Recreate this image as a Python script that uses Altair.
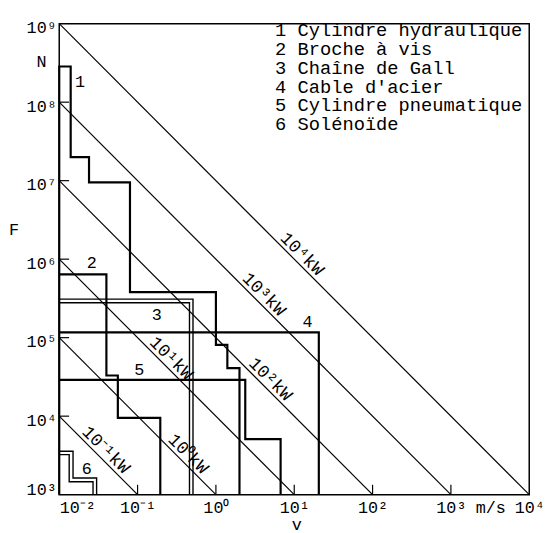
import altair as alt
import pandas as pd

# ---------------- data ----------------
x_ticks = [0.01, 0.1, 1, 10, 100, 1000, 10000]
x_tick_labels = ["10⁻²", "10⁻¹", "10⁰", "10¹", "10²", "10³", "10⁴"]
y_ticks = [1e3, 1e4, 1e5, 1e6, 1e7, 1e8, 1e9]
y_tick_labels = ["10³", "10⁴", "10⁵", "10⁶", "10⁷", "10⁸", "10⁹"]
inner_x_ticks = [0.1, 1, 10, 100, 1000]
inner_y_ticks = [1e4, 1e5, 1e6, 1e7, 1e8]

# constant power lines (W): from v=0.01 to F=1e3
power_W = [1e2, 1e3, 1e4, 1e5, 1e6, 1e7]
power_labels = ["10⁻¹kW", "10⁰kW", "10¹kW", "10²kW", "10³kW", "10⁴kW"]
power_v_start = [0.01, 0.01, 0.01, 0.01, 0.01, 0.01]
power_F_start = [1e4, 1e5, 1e6, 1e7, 1e8, 1e9]
power_v_end = [0.1, 1, 10, 100, 1000, 10000]
power_F_end = [1e3, 1e3, 1e3, 1e3, 1e3, 1e3]
power_label_v = [0.0326, 0.366, 0.222, 4.1, 3.4, 10.4]

# step curves (v in m/s, F in N)
c1_v = [0.01, 0.01, 0.014, 0.014, 0.024, 0.024, 0.08, 0.08, 1.0, 1.0, 1.4, 1.4, 2.0, 2.0]
c1_F = [1e3, 2.85e8, 2.85e8, 2.0e7, 2.0e7, 9.5e6, 9.5e6, 3.8e5, 3.8e5, 8.1e4, 8.1e4, 4.1e4, 4.1e4, 1e3]
c2_v = [0.01, 0.04, 0.04, 0.056, 0.056, 0.195, 0.195]
c2_F = [6.4e5, 6.4e5, 3.3e4, 3.3e4, 9.5e3, 9.5e3, 1e3]
c3o_v = [0.01, 0.51, 0.51]
c3o_F = [3.1e5, 3.1e5, 1e3]
c3i_v = [0.01, 0.46, 0.46]
c3i_F = [2.78e5, 2.78e5, 1e3]
c4_v = [0.01, 20.6, 20.6]
c4_F = [1.17e5, 1.17e5, 1e3]
c5_v = [0.01, 2.37, 2.37, 6.7, 6.7]
c5_F = [2.9e4, 2.9e4, 5.1e3, 5.1e3, 1e3]
c6o_v = [0.01, 0.015, 0.015, 0.030, 0.030]
c6o_F = [3.57e3, 3.57e3, 1.63e3, 1.63e3, 1e3]
c6i_v = [0.01, 0.0134, 0.0134, 0.027, 0.027]
c6i_F = [3.24e3, 3.24e3, 1.46e3, 1.46e3, 1e3]

curve_nums = ["1", "2", "3", "4", "5", "6"]
curve_num_v = [0.0184, 0.026, 0.176, 14.8, 0.105, 0.0225]
curve_num_F = [1.8e8, 8.9e5, 1.92e5, 1.57e5, 3.9e4, 2.1e3]

legend_lines = ["1 Cylindre hydraulique", "2 Broche à vis", "3 Chaîne de Gall",
                "4 Cable d'acier", "5 Cylindre pneumatique", "6 Solénoïde"]

# ---------------- build tables ----------------
def path_df(groups):
    rows = []
    for name, vs, fs in groups:
        for i, (v, f) in enumerate(zip(vs, fs)):
            rows.append({"curve": name, "idx": i, "v": v, "F": f})
    return pd.DataFrame(rows)

thick_df = path_df([("1", c1_v, c1_F), ("2", c2_v, c2_F), ("4", c4_v, c4_F), ("5", c5_v, c5_F)])
thin_df = path_df([("3o", c3o_v, c3o_F), ("3i", c3i_v, c3i_F), ("6o", c6o_v, c6o_F), ("6i", c6i_v, c6i_F)])
power_df = path_df([(power_labels[i], [power_v_start[i], power_v_end[i]],
                     [power_F_start[i], power_F_end[i]]) for i in range(len(power_W))])
plabel_df = pd.DataFrame({"label": power_labels, "v": power_label_v,
                          "F": [p / v for p, v in zip(power_W, power_label_v)]})
num_df = pd.DataFrame({"t": curve_nums, "v": curve_num_v, "F": curve_num_F})
xt_df = pd.DataFrame({"v": inner_x_ticks})
yt_df = pd.DataFrame({"F": inner_y_ticks})
one = pd.DataFrame({"a": [0]})

FONT = "Liberation Mono"

def label_expr(vals, labs):
    parts = [f"datum.value == {v} ? '{l}'" for v, l in zip(vals, labs)]
    return " : ".join(parts) + " : ''"

X = alt.X("v:Q", scale=alt.Scale(type="log", domain=[0.01, 10000]),
          axis=alt.Axis(values=x_ticks, labelExpr=label_expr(x_ticks, x_tick_labels),
                        title=None, grid=False, ticks=False, domain=False,
                        labelFont=FONT, labelFontSize=17, labelColor="black",
                        labelPadding=5, labelOverlap=False, labelFlush=False,
                        labelAlign={"condition": {"test": "datum.value == 0.01", "value": "left"},
                                    "value": "center"}))
Y = alt.Y("F:Q", scale=alt.Scale(type="log", domain=[1000, 1e9]),
          axis=alt.Axis(values=y_ticks, labelExpr=label_expr(y_ticks, y_tick_labels),
                        title=None, grid=False, ticks=False, domain=False,
                        labelFont=FONT, labelFontSize=17, labelColor="black",
                        labelPadding=3, labelOverlap=False, labelFlush=False,
                        labelOffset=4,
                        labelBaseline={"condition": {"test": "datum.value == 1000", "value": "bottom"},
                                       "value": "middle"}))

power = alt.Chart(power_df).mark_line(color="black", strokeWidth=1.2).encode(
    x=X, y=Y, detail="curve:N", order="idx:Q")
thick = alt.Chart(thick_df).mark_line(color="black", strokeWidth=2.2).encode(
    x=X, y=Y, detail="curve:N", order="idx:Q")
thin = alt.Chart(thin_df).mark_line(color="black", strokeWidth=1.4).encode(
    x=X, y=Y, detail="curve:N", order="idx:Q")
plabels = alt.Chart(plabel_df).mark_text(font=FONT, fontSize=18, angle=45, align="center",
                                         baseline="middle", dy=-9, color="black").encode(
    x=X, y=Y, text="label:N")
nums = alt.Chart(num_df).mark_text(font=FONT, fontSize=17, color="black").encode(
    x=X, y=Y, text="t:N")
xt = alt.Chart(xt_df).mark_rule(color="black", strokeWidth=1.2).encode(
    x=X, y=alt.value(478), y2=alt.value(468))
yt = alt.Chart(yt_df).mark_rule(color="black", strokeWidth=1.2).encode(
    y=Y, x=alt.value(0), x2=alt.value(10))

legend_layers = []
for i, line in enumerate(legend_lines):
    legend_layers.append(
        alt.Chart(one).mark_text(text=line, font=FONT, fontSize=19, align="left",
                                 baseline="alphabetic", color="black").encode(
            x=alt.value(219), y=alt.value(13 + 19 * i)))

f_title = alt.Chart(one).mark_text(text="F", font=FONT, fontSize=17, color="black").encode(
    x=alt.value(-46), y=alt.value(209))
n_unit = alt.Chart(one).mark_text(text="N", font=FONT, fontSize=17, color="black").encode(
    x=alt.value(-18), y=alt.value(39))
ms_unit = alt.Chart(one).mark_text(text="m/s", font=FONT, fontSize=17, color="black",
                                   baseline="alphabetic").encode(
    x=alt.value(438), y=alt.value(497))
v_title = alt.Chart(one).mark_text(text="v", font=FONT, fontSize=17, color="black").encode(
    x=alt.value(241), y=alt.value(509))

chart = alt.layer(power, thick, thin, plabels, nums, xt, yt, *legend_layers, f_title, n_unit,
                  ms_unit, v_title).properties(
    width=477, height=478,
    autosize=alt.AutoSizeParams(type="none"),
    padding={"left": 52, "top": 12, "right": 16, "bottom": 35},
    background="white",
).configure_view(stroke="black", strokeWidth=1.5)

chart.save("out.html", embed_options={"renderer": "svg", "actions": False})
